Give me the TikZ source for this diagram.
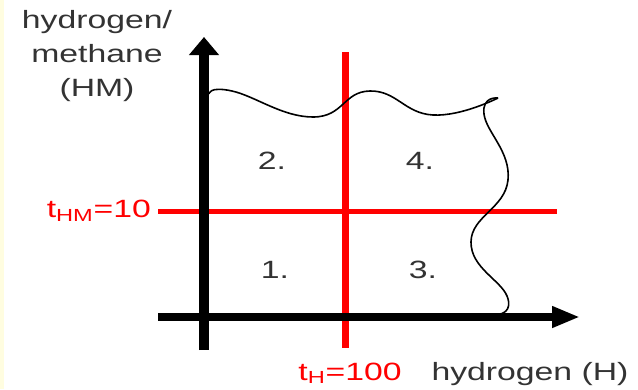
\documentclass[tikz,border=0pt]{standalone}
\usepackage{fontspec}
\setmainfont{Liberation Sans}
\usepackage{graphicx}
\usetikzlibrary{arrows.meta}
\newcommand{\widetxt}[1]{\scalebox{1.35}[1]{#1}}

\begin{document}
\begin{tikzpicture}[x=1pt, y=-1pt,
    axisv/.style={draw=black, line width=9.5pt, -{Triangle[length=18pt, width=29pt]}},
    axish/.style={draw=black, line width=7.5pt, -{Triangle[length=28pt, width=20pt]}},
    threshv/.style={draw=red, line width=7pt},
    threshh/.style={draw=red, line width=5pt},
    lbl/.style={font=\fontsize{25}{34}\selectfont, text=black!80, inner sep=0pt, align=center},
    rlbl/.style={lbl, text=red},
    border/.style={draw=black, line width=1.6pt, line join=round}]
\useasboundingbox (0,0) rectangle (638,389);
\fill[yellow!12] (0,0) rectangle (4,389);
% end points
\coordinate (ybot) at (204,350);
\coordinate (ytop) at (204,37);
\coordinate (xleft) at (158,317);
\coordinate (xright) at (580,317);
\coordinate (thtop) at (345,52);
\coordinate (thbot) at (345,348);
\coordinate (thleft) at (158,211);
\coordinate (thright) at (557,211);
% labels
\node[lbl] (yname) at (97,56) {\widetxt{hydrogen/}\\\widetxt{methane}\\\widetxt{(HM)}};
\node[rlbl, anchor=east] (thmlbl) at (151,211) {\widetxt{t\textsubscript{HM}=10}};
\node[rlbl, anchor=base] (thlbl) at (350,380) {\widetxt{t\textsubscript{H}=100}};
\node[lbl, anchor=base] (xname) at (530,380) {\widetxt{hydrogen (H)}};
\node[lbl] (r2) at (272,161) {\widetxt{2.}};
\node[lbl] (r4) at (420,161) {\widetxt{4.}};
\node[lbl] (r1) at (275,270) {\widetxt{1.}};
\node[lbl] (r3) at (423,270) {\widetxt{3.}};
% thresholds
\draw[threshv] (thtop) -- (thbot);
\draw[threshh] (thleft) -- (thright);
% axes
\draw[axisv] (ybot) -- (ytop);
\draw[axish] (xleft) -- (xright);
% feasible region boundary
\draw[border] plot[smooth, tension=0.8] coordinates {(209,94) (232,91) (313,117) (370,91) (433,115) (498,98)};
\draw[border] plot[smooth, tension=0.8] coordinates {(498,98) (484,114) (508,180) (471,242) (507,296) (500,314)};
\end{tikzpicture}
\end{document}
